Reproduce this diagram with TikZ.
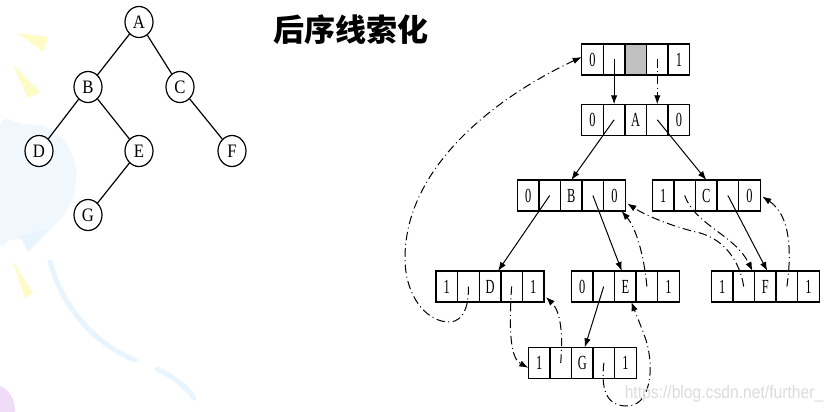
\documentclass[tikz,border=0pt]{standalone}
\usepackage{fontspec}
\usepackage{graphicx}
\setmainfont{Liberation Serif}
\newfontfamily\cjk{Noto Sans CJK SC}
\newfontfamily\wmfont{Liberation Sans}
\usetikzlibrary{shapes.geometric,arrows.meta,calc}
\definecolor{bgblue}{HTML}{F0F8FE}
\definecolor{bgblueedge}{HTML}{E8F5FE}
\definecolor{bgyellow}{HTML}{FFFBC6}
\definecolor{bgpurple}{HTML}{F1DCF7}
\definecolor{cellgray}{HTML}{C0C0C0}
\definecolor{wmgray}{HTML}{DCDCDC}
\newcommand\cx[1]{\scalebox{0.62}[1]{#1}}
\newcommand\mkrecord[8]{%
  \node[cell] (#11) at (#2+10.8,#3+15.5) {\cx{#4}};
  \node[cell] (#12) at (#2+32.4,#3+15.5) {\cx{#5}};
  \node[cell] (#13) at (#2+54.0,#3+15.5) {\cx{#6}};
  \node[cell] (#14) at (#2+75.6,#3+15.5) {\cx{#7}};
  \node[cell] (#15) at (#2+97.2,#3+15.5) {\cx{#8}};
}
\tikzset{
  cell/.style={draw, line width=1.4pt, minimum width=21.6pt, minimum height=31pt,
    inner sep=0pt, outer sep=0pt, font=\fontsize{20}{20}\selectfont},
  ptr/.style={line width=1pt, -{Latex[length=9pt,width=6.5pt]}},
  thr/.style={ptr, dash pattern=on 8.5pt off 3.5pt on 1pt off 3.5pt},
  tn/.style={ellipse, draw, line width=1.2pt, minimum width=28pt, minimum height=31pt,
    inner sep=0pt, fill=white, font=\fontsize{19}{19}\selectfont},
  tedge/.style={line width=1.2pt}
}
\begin{document}
\begin{tikzpicture}[x=1pt,y=-1pt]
\useasboundingbox (0,0) rectangle (833,412);
\fill[white] (0,0) rectangle (833,412);
% background decoration
\fill[bgblue] plot[smooth cycle] coordinates {(0,127) (22,124) (45,127) (65,142) (76,168) (73,198) (58,222) (35,236) (10,240) (0,240)};
\fill[bgblueedge] (20,236) -- (50,229) -- (28,252) -- cycle;
\draw[bgblueedge, line width=5pt, line cap=round] (50,262) .. controls (62,305) and (92,343) .. (135,360);
\draw[bgblueedge, line width=5pt, line cap=round] (157,369) .. controls (172,376) and (186,386) .. (194,398);
\fill[bgyellow] (18,33) -- (48,37) -- (43,52) -- cycle;
\fill[bgyellow] (13,65) -- (40,92) -- (28,98) -- cycle;
\fill[bgyellow] (12,260) -- (33,293) -- (25,298) -- cycle;
\fill[bgpurple] (0,386) .. controls (10,390) and (15,400) .. (15,412) -- (0,412) -- cycle;
% title
\node[font=\cjk\bfseries\fontsize{31}{31}\selectfont] (title) at (351,30) {后序线索化};
% tree
\node[tn] (tA) at (139,22) {\scalebox{0.88}[1]{A}};
\node[tn] (tB) at (88,87) {\scalebox{0.88}[1]{B}};
\node[tn] (tC) at (180,87) {\scalebox{0.88}[1]{C}};
\node[tn] (tD) at (39,151) {\scalebox{0.88}[1]{D}};
\node[tn] (tE) at (139,151) {\scalebox{0.88}[1]{E}};
\node[tn] (tF) at (232,151) {\scalebox{0.88}[1]{F}};
\node[tn] (tG) at (88,215) {\scalebox{0.88}[1]{G}};
\draw[tedge] (tA) -- (tB);
\draw[tedge] (tA) -- (tC);
\draw[tedge] (tB) -- (tD);
\draw[tedge] (tB) -- (tE);
\draw[tedge] (tC) -- (tF);
\draw[tedge] (tE) -- (tG);
% records
\mkrecord{h}{581.7}{44}{0}{}{}{}{1}
\path[fill=cellgray, draw, line width=1.4pt] (h3.north west) rectangle (h3.south east);
\mkrecord{a}{581.7}{104.3}{0}{}{A}{}{0}
\mkrecord{b}{517.3}{180}{0}{}{B}{}{0}
\mkrecord{c}{652.3}{180}{1}{}{C}{}{0}
\mkrecord{d}{436}{271}{1}{}{D}{}{1}
\mkrecord{e}{571.3}{271}{0}{}{E}{}{1}
\mkrecord{f}{711.3}{271}{1}{}{F}{}{1}
\mkrecord{g}{528.3}{347.3}{1}{}{G}{}{1}
% child pointers
\draw[ptr] (h2.center) -- (a2.north);
\draw[ptr] (a2.center) -- (b3.north);
\draw[ptr] (a4.center) -- (c3.north);
\draw[ptr] (b2.center) -- ($(d3.north)+(8,0)$);
\draw[ptr] (b4.center) -- ($(e3.north)+(-3.5,0)$);
\draw[ptr] (c4.center) -- ($(f3.north)+(2,0)$);
\draw[ptr] (e2.center) -- ($(g3.north)+(2.5,0)$);
% threads
\draw[thr] (h4.center) -- (a4.north);
\draw[thr] (d2.center) .. controls (469,315) and (458,323) .. (447,322)
  .. controls (425,320) and (405,295) .. (405,258)
  .. controls (405,170) and (490,100) .. ($(h1.west)+(0,-2.5)$);
\draw[thr] (d4.center) .. controls (509,330) and (510,358) .. ($(g1.west)+(0,5)$);
\draw[thr] (g2.center) .. controls (563,335) and (561,312) .. ($(d5.south east)+(2,-5)$);
\draw[thr] (g4.center) .. controls (600,395) and (610,406) .. (627,406)
  .. controls (650,406) and (655,370) .. (646,340)
  .. controls (641,326) and (636,314) .. ($(e3.south)+(6,0)$);
\draw[thr] (e4.center) .. controls (644,255) and (636,228) .. ($(b5.south)+(7,0)$);
\draw[thr] (f2.center) .. controls (740,262) and (725,240) .. (700,233)
  .. controls (670,226) and (645,215) .. ($(b5.east)+(2,8)$);
\draw[thr] (c2.center) .. controls (695,225) and (735,235) .. ($(f2.north east)+(-2,0)$);
\draw[thr] (f4.center) .. controls (792,250) and (790,215) .. ($(c5.east)+(2,1)$);
% watermark
\node[text=wmgray, font=\wmfont\fontsize{18}{18}\selectfont] (wm) at (724,394) {\scalebox{0.87}[1]{https://blog.csdn.net/further\_}};
\end{tikzpicture}
\end{document}
